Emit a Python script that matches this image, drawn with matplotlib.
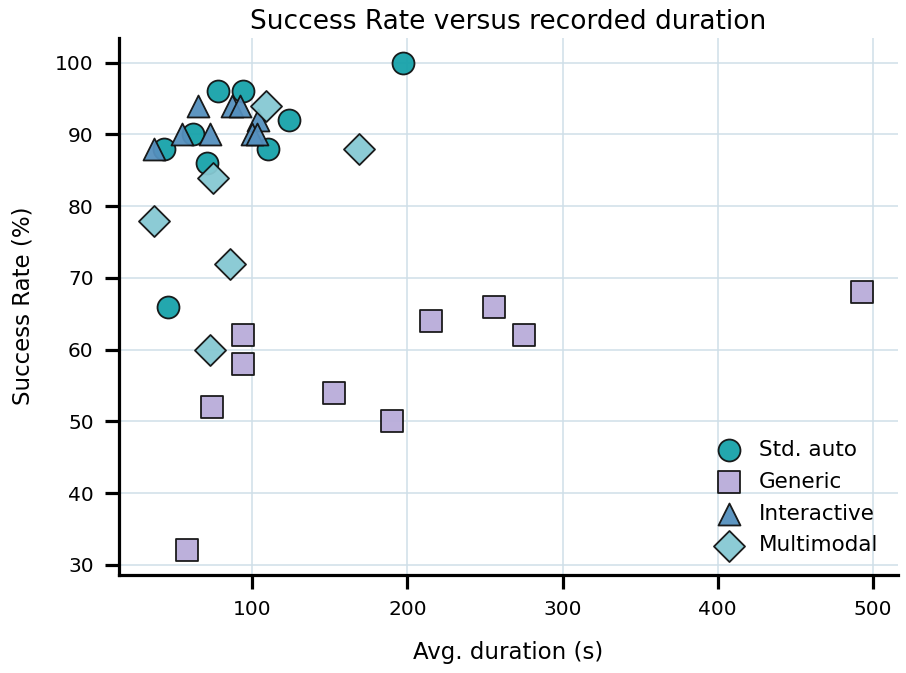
import matplotlib
matplotlib.use("Agg")
import matplotlib.pyplot as plt

std_x = [197, 78, 94, 124, 62, 43, 110, 71, 46]
std_y = [100, 96, 96, 92, 90, 88, 88, 86, 66]

gen_x = [94, 94, 74, 153, 190, 215, 256, 275, 493, 58]
gen_y = [62, 58, 52, 54, 50, 64, 66, 62, 68, 32]

int_x = [65, 87, 92, 55, 73, 37, 104, 100, 103]
int_y = [94, 94, 94, 90, 90, 88, 92, 90, 90]

mm_x = [109, 169, 75, 37, 86, 73]
mm_y = [94, 88, 84, 78, 72, 60]

fig = plt.figure(figsize=(9.06, 6.73), dpi=100)
ax = fig.add_axes([0.131, 0.146, 0.860, 0.798])

kw = dict(s=250, edgecolors="#111111", linewidths=1.3, alpha=0.95, zorder=3)
ax.scatter(std_x, std_y, marker="o", color="#17a2aa", label="Std. auto", **kw)
ax.scatter(gen_x, gen_y, marker="s", color="#b9acd9", label="Generic", **kw)
ax.scatter(int_x, int_y, marker="^", color="#5590be", label="Interactive", **kw)
ax.scatter(mm_x, mm_y, marker="D", color="#86c9d3", label="Multimodal", **kw)

ax.set_xlim(14, 516)
ax.set_ylim(28.6, 103.5)
ax.set_xticks([100, 200, 300, 400, 500])
ax.set_yticks([30, 40, 50, 60, 70, 80, 90, 100])

ax.grid(True, color="#cfdfe8", linewidth=1.1, zorder=0)
ax.set_axisbelow(True)
for s in ["top", "right"]:
    ax.spines[s].set_visible(False)
for s in ["left", "bottom"]:
    ax.spines[s].set_linewidth(2.3)
ax.tick_params(axis="both", length=10, width=2.3, labelsize=14.5, pad=8)

ax.set_xlabel("Avg. duration (s)", fontsize=16.5, labelpad=16)
ax.set_ylabel("Success Rate (%)", fontsize=16.5, labelpad=15)
ax.set_title("Success Rate versus recorded duration", fontsize=19, pad=6)

ax.legend(loc="lower right", frameon=False, fontsize=15.5, handletextpad=0.4,
          labelspacing=0.55, borderaxespad=0.5)

fig.savefig("out.png", dpi=100)
